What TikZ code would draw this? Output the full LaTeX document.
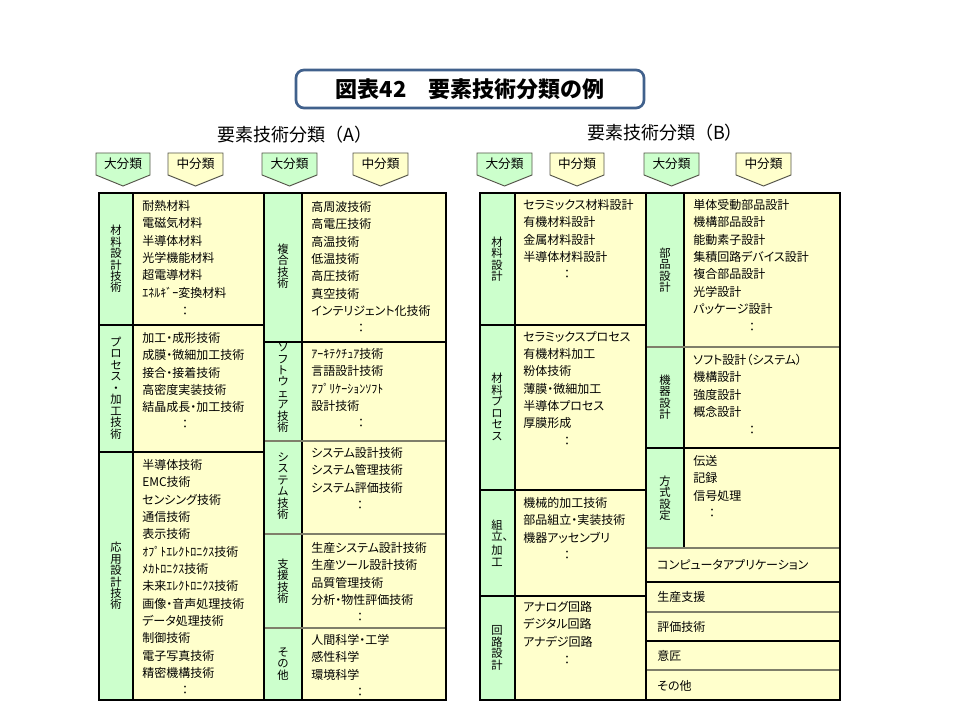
\documentclass[tikz,border=0pt]{standalone}
\usepackage{fontspec}
\setmainfont{Noto Sans CJK JP}[RawFeature={+palt}]
\newfontfamily\jpfull{Noto Sans CJK JP}
\definecolor{gfill}{HTML}{CCFFCC}
\definecolor{yfill}{HTML}{FFFFCC}
\definecolor{tblue}{HTML}{41618C}
\definecolor{lgray}{HTML}{7F7F6A}
\definecolor{chevline}{HTML}{55554A}
\tikzset{
  itemtxt/.style={anchor=north west, align=left, inner sep=0pt, font=\fontsize{9}{13}\selectfont},
  onetxt/.style={anchor=west, inner sep=0pt, font=\fontsize{9}{13}\selectfont},
  coltxt/.style={inner sep=0pt, font=\fontsize{9}{13}\selectfont},
  vlab/.style={align=center, inner sep=0pt, font=\fontsize{8.5}{8.6}\selectfont},
  thin/.style={line width=0.8pt, black},
  thingray/.style={line width=0.8pt, lgray},
  thick/.style={line width=2.1pt, black},
  chevshape/.style={draw=chevline, line width=0.7pt},
  chevtxt/.style={inner sep=0pt, font=\fontsize{9.5}{11}\selectfont},
  subtitle/.style={inner sep=0pt, font=\jpfull\fontsize{13.5}{16}\selectfont},
  titlebox/.style={draw=tblue, line width=2pt, rounded corners=6pt, fill=white,
    minimum width=261pt, minimum height=28.5pt, inner sep=0pt,
    font=\jpfull\bfseries\fontsize{16.5}{19}\selectfont}
}
\newcommand\mychev[5]{%
  \draw[chevshape, fill=#2] (#3,153) -- (#4,153) -- (#4,175) -- ({(#3+#4)/2},186) -- (#3,175) -- cycle;
  \node[chevtxt] (#1) at ({(#3+#4)/2},164) {#5};
}
\begin{document}
\begin{tikzpicture}[x=0.75pt,y=-0.75pt]
\useasboundingbox (0,0) rectangle (960,720);

% title
\node[titlebox] (title) at (470,89) {図表42　要素技術分類の例};
\node[subtitle] (subA) at (295,135) {要素技術分類（A）};
\node[subtitle] (subB) at (665,133) {要素技術分類（B）};

% chevrons
\mychev{cA1}{gfill}{96}{150}{大分類}
\mychev{cA2}{yfill}{168}{223}{中分類}
\mychev{cA3}{gfill}{262}{317}{大分類}
\mychev{cA4}{yfill}{353}{408}{中分類}
\mychev{cB1}{gfill}{477}{532}{大分類}
\mychev{cB2}{yfill}{550}{604}{中分類}
\mychev{cB3}{gfill}{644}{699}{大分類}
\mychev{cB4}{yfill}{736}{791}{中分類}

% fills
\fill[yfill] (99,193) rectangle (446,700);
\fill[gfill] (99,193) rectangle (133,700);
\fill[gfill] (264,193) rectangle (302,700);
\fill[yfill] (480,193) rectangle (840,700);
\fill[gfill] (480,193) rectangle (515,700);
\fill[gfill] (646,193) rectangle (684,548);

% inner lines
\draw[thin] (133,193) -- (133,700);
\draw[thin] (302,193) -- (302,700);
\draw[thin] (515,193) -- (515,700);
\draw[thin] (684,193) -- (684,548);
\draw[thin] (99,325) -- (264,325);
\draw[thin] (99,452) -- (264,452);
\draw[thin] (264,342) -- (446,342);
\draw[thingray] (264,441) -- (446,441);
\draw[thingray] (264,534) -- (446,534);
\draw[thingray] (264,628) -- (446,628);
\draw[thin] (480,325) -- (646,325);
\draw[thin] (480,490) -- (646,490);
\draw[thin] (480,596) -- (646,596);
\draw[thingray] (646,347) -- (840,347);
\draw[thin] (646,448) -- (840,448);
\draw[thingray] (646,548) -- (840,548);
\draw[thin] (646,582) -- (840,582);
\draw[thingray] (646,612) -- (840,612);
\draw[thin] (646,641) -- (840,641);
\draw[thingray] (646,670) -- (840,670);

% outer borders
\draw[thick] (99,193) rectangle (446,700);
\draw[thick] (264,193) -- (264,700);
\draw[thick] (480,193) rectangle (840,700);
\draw[thick] (646,193) -- (646,700);

% vertical labels A
\node[vlab] (lA1) at (116,259) {材\\料\\設\\計\\技\\術};
\node[vlab] (lA2) at (116,388) {プ\\ロ\\セ\\ス\\・\\加\\工\\技\\術};
\node[vlab] (lA3) at (116,576) {応\\用\\設\\計\\技\\術};
\node[vlab] (lA4) at (283,266) {複\\合\\技\\術};
\node[vlab] (lA5) at (283,388) {ソ\\フ\\ト\\ウ\\ェ\\ア\\技\\術};
\node[vlab] (lA6) at (283,486) {シ\\ス\\テ\\ム\\技\\術};
\node[vlab] (lA7) at (283,581) {支\\援\\技\\術};
\node[vlab] (lA8) at (283,664) {そ\\の\\他};
% vertical labels B
\node[vlab] (lB1) at (497,259) {材\\料\\設\\計};
\node[vlab] (lB2) at (497,407) {材\\料\\プ\\ロ\\セ\\ス};
\node[vlab] (lB3) at (497,543) {組\\立\rlap{、}\\[2pt]加\\工};
\node[vlab] (lB4) at (497,648) {回\\路\\設\\計};
\node[vlab] (lB5) at (665,270) {部\\品\\設\\計};
\node[vlab] (lB6) at (665,397) {機\\器\\設\\計};
\node[vlab] (lB7) at (665,498) {方\\式\\設\\定};

% items A
\node[itemtxt] (iA1) at (142,200) {耐熱材料\\電磁気材料\\半導体材料\\光学機能材料\\超電導材料\\ｴﾈﾙｷﾞｰ変換材料};
\node[itemtxt] (iA2) at (142,332) {加工・成形技術\\成膜・微細加工技術\\接合・接着技術\\高密度実装技術\\結晶成長・加工技術};
\node[itemtxt] (iA3) at (142,459) {半導体技術\\EMC技術\\センシング技術\\通信技術\\表示技術\\ｵﾌﾟﾄｴﾚｸﾄﾛﾆｸｽ技術\\ﾒｶﾄﾛﾆｸｽ技術\\未来ｴﾚｸﾄﾛﾆｸｽ技術\\画像・音声処理技術\\データ処理技術\\制御技術\\電子写真技術\\精密機構技術};
\node[itemtxt] (iA4) at (311,201) {高周波技術\\高電圧技術\\高温技術\\低温技術\\高圧技術\\真空技術\\インテリジェント化技術};
\node[itemtxt] (iA5) at (311,348) {ｱｰｷﾃｸﾁｭｱ技術\\言語設計技術\\ｱﾌﾟﾘｹｰｼｮﾝｿﾌﾄ\\設計技術};
\node[itemtxt] (iA6) at (311,447) {システム設計技術\\システム管理技術\\システム評価技術};
\node[itemtxt] (iA7) at (311,542) {生産システム設計技術\\生産ツール設計技術\\品質管理技術\\分析・物性評価技術};
\node[itemtxt] (iA8) at (311,634) {人間科学・工学\\感性科学\\環境科学};
% items B
\node[itemtxt] (iB1) at (523,199) {セラミックス材料設計\\有機材料設計\\金属材料設計\\半導体材料設計};
\node[itemtxt] (iB2) at (523,331) {セラミックスプロセス\\有機材料加工\\粉体技術\\薄膜・微細加工\\半導体プロセス\\厚膜形成};
\node[itemtxt] (iB3) at (523,497) {機械的加工技術\\部品組立・実装技術\\機器アッセンブリ};
\node[itemtxt] (iB4) at (523,601) {アナログ回路\\デジタル回路\\アナデジ回路};
\node[itemtxt] (iB5) at (693,199) {単体受動部品設計\\機構部品設計\\能動素子設計\\集積回路デバイス設計\\複合部品設計\\光学設計\\パッケージ設計};
\node[itemtxt] (iB6) at (693,354) {ソフト設計（システム）\\機構設計\\強度設計\\概念設計};
\node[itemtxt] (iB7) at (693,455) {伝送\\記録\\信号処理};
\node[onetxt] (iB8) at (657,565) {コンピュータアプリケーション};
\node[onetxt] (iB9) at (657,597) {生産支援};
\node[onetxt] (iB10) at (657,627) {評価技術};
\node[onetxt] (iB11) at (657,656) {意匠};
\node[onetxt] (iB12) at (657,686) {その他};

% colons
\node[coltxt] (kA1) at (185,311) {：};
\node[coltxt] (kA2) at (185,424) {：};
\node[coltxt] (kA3) at (185,690) {：};
\node[coltxt] (kA4) at (361,328) {：};
\node[coltxt] (kA5) at (361,423) {：};
\node[coltxt] (kA6) at (360,505) {：};
\node[coltxt] (kA7) at (360,617) {：};
\node[coltxt] (kA8) at (360,692) {：};
\node[coltxt] (kB1) at (567,274) {：};
\node[coltxt] (kB2) at (567,441) {：};
\node[coltxt] (kB3) at (567,555) {：};
\node[coltxt] (kB4) at (567,660) {：};
\node[coltxt] (kB5) at (752,327) {：};
\node[coltxt] (kB6) at (752,430) {：};
\node[coltxt] (kB7) at (712,513) {：};
\end{tikzpicture}
\end{document}
